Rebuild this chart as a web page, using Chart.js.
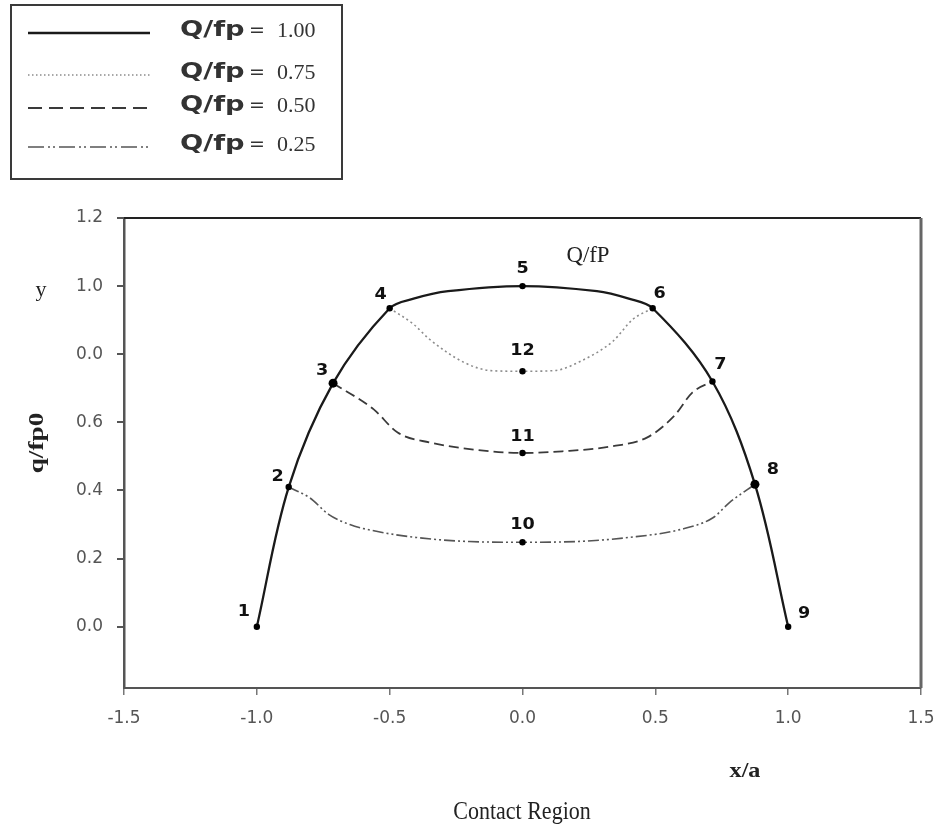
<!DOCTYPE html>
<html><head><meta charset="utf-8">
<script src="https://cdn.jsdelivr.net/npm/chart.js@4.4.1/dist/chart.umd.min.js"></script>
<style>html,body{margin:0;padding:0;background:#fff;}#wrap{width:937px;height:832px;position:relative;}</style>
</head><body><div id="wrap"><canvas id="c" width="937" height="832"></canvas></div>
<script>
// ---- data ----
const seriesValues = ["1.00", "0.75", "0.50", "0.25"];
const mainX = [-1.0, -0.88, -0.713, -0.5, -0.41, -0.28, 0, 0.28, 0.40, 0.49, 0.715, 0.875, 1.0];
const mainY = [0.0, 0.41, 0.715, 0.935, 0.963, 0.985, 1.0, 0.985, 0.963, 0.935, 0.72, 0.418, 0.0];
const q75X = [-0.5, -0.41, -0.35, -0.22, -0.12, 0, 0.12, 0.22, 0.34, 0.416, 0.49];
const q75Y = [0.935, 0.888, 0.844, 0.776, 0.752, 0.75, 0.752, 0.78, 0.838, 0.903, 0.935];
const q50X = [-0.713, -0.56, -0.47, -0.35, -0.12, 0, 0.15, 0.34, 0.47, 0.57, 0.64, 0.715];
const q50Y = [0.715, 0.638, 0.57, 0.541, 0.515, 0.51, 0.515, 0.53, 0.556, 0.618, 0.688, 0.72];
const q25X = [-0.88, -0.8, -0.73, -0.65, -0.55, -0.4, -0.2, 0, 0.2, 0.4, 0.593, 0.717, 0.78, 0.875];
const q25Y = [0.41, 0.378, 0.33, 0.30, 0.28, 0.262, 0.25, 0.248, 0.25, 0.262, 0.285, 0.32, 0.365, 0.418];
const nodeX = [-1.0, -0.88, -0.713, -0.5, 0, 0.49, 0.715, 0.875, 1.0, 0, 0, 0];
const nodeY = [0.0, 0.41, 0.715, 0.935, 1.0, 0.935, 0.72, 0.418, 0.0, 0.248, 0.51, 0.75];
const nodeLabels = ["1","2","3","4","5","6","7","8","9","10","11","12"];
const xTicks = [-1.5, -1.0, -0.5, 0.0, 0.5, 1.0, 1.5];
const xTickLabels = ["-1.5", "-1.0", "-0.5", "0.0", "0.5", "1.0", "1.5"];
const yTicks = [0.0, 0.2, 0.4, 0.6, 0.8, 1.0, 1.2];
const yTickLabels = ["0.0", "0.2", "0.4", "0.6", "0.0", "1.0", "1.2"];

// ---- helpers / styles ----
function pts(xs, ys) { return xs.map((x, i) => ({ x: x, y: ys[i] })); }
const SERIF = '"Liberation Serif", "Times New Roman", serif';
const SANS = '"DejaVu Sans", "Liberation Sans", sans-serif';
function stext(ctx, s, x, y, font, color, sx, align, rot) {
  ctx.save(); ctx.translate(x, y); if (rot) ctx.rotate(rot); ctx.scale(sx || 1, 1);
  ctx.font = font; ctx.fillStyle = color; ctx.textAlign = align || 'center'; ctx.textBaseline = 'middle';
  ctx.fillText(s, 0, 0); ctx.restore();
}
const lineBase = { showLine: true, pointRadius: 0, pointHoverRadius: 0, fill: false, cubicInterpolationMode: 'monotone' };
const seriesStyles = [
  { color: '#1a1a1a', width: 2.3, dash: [] },
  { color: '#8c8c8c', width: 1.6, dash: [2, 3] },
  { color: '#3a3a3a', width: 1.8, dash: [10, 5] },
  { color: '#555555', width: 1.6, dash: [11, 3, 2, 3, 2, 3] }
];
const nodeOffsets = [[-13,-15],[-11,-10],[-11,-12],[-9,-13],[0,-17],[7,-14],[8,-17],[18,-14],[16,-13],[0,-17],[0,-16],[0,-20]];

const framePlugin = {
  id: 'frame',
  beforeDatasetsDraw(chart) {
    const a = chart.chartArea, ctx = chart.ctx;
    ctx.save();
    ctx.strokeStyle = '#222'; ctx.lineWidth = 2;
    ctx.beginPath(); ctx.moveTo(a.left, a.top); ctx.lineTo(a.right, a.top); ctx.stroke();
    ctx.strokeStyle = '#666'; ctx.lineWidth = 3;
    ctx.beginPath(); ctx.moveTo(a.right, a.top); ctx.lineTo(a.right, a.bottom); ctx.stroke();
    ctx.restore();
  }
};

const textPlugin = {
  id: 'texts',
  afterDraw(chart) {
    const ctx = chart.ctx, xs = chart.scales.x, ys = chart.scales.y;
    nodeLabels.forEach((lab, i) => {
      const px = xs.getPixelForValue(nodeX[i]), py = ys.getPixelForValue(nodeY[i]);
      stext(ctx, lab, px + nodeOffsets[i][0], py + nodeOffsets[i][1], 'bold 16px ' + SANS, '#111', 1.1);
    });
    stext(ctx, 'y', 41, 290, '22px ' + SERIF, '#222', 1);
    stext(ctx, 'q/fp0', 38, 443, 'bold 21px ' + SERIF, '#222', 1.3, 'center', -Math.PI / 2);
    stext(ctx, 'Q/fP', 588, 256, '24px ' + SERIF, '#222', 0.95);
    stext(ctx, 'x/a', 745, 772, 'bold 21px ' + SERIF, '#222', 1.15);
    stext(ctx, 'Contact Region', 522, 812, '25px ' + SERIF, '#222', 0.88);
    ctx.save();
    ctx.strokeStyle = '#3a3a3a'; ctx.lineWidth = 2;
    ctx.strokeRect(11, 5, 331, 174);
    const rows = [33, 75, 108, 147];
    seriesValues.forEach((v, i) => {
      const st = seriesStyles[i];
      ctx.save();
      ctx.strokeStyle = st.color; ctx.lineWidth = st.width;
      const d = i === 1 ? [1.5, 2.5] : (i === 2 ? [14, 7] : (i === 3 ? [16, 4, 2, 3, 2, 4] : []));
      ctx.setLineDash(d);
      ctx.beginPath(); ctx.moveTo(28, rows[i]); ctx.lineTo(150, rows[i]); ctx.stroke();
      ctx.restore();
      stext(ctx, 'Q/fp', 180, rows[i] - 2, 'bold 21px ' + SANS, '#333', 1.3, 'left');
      stext(ctx, '=', 249, rows[i] - 2, '19px ' + SANS, '#333', 1, 'left');
      stext(ctx, v, 277, rows[i] - 1, '20px ' + SERIF, '#333', 1.1, 'left');
    });
    ctx.restore();
  }
};

new Chart(document.getElementById('c'), {
  type: 'scatter',
  data: {
    datasets: [
      { label: 'nodes', data: pts(nodeX, nodeY), showLine: false,
        pointRadius: (c) => (c.dataIndex === 2 || c.dataIndex === 7) ? 4.5 : 3.2,
        pointBackgroundColor: '#000', pointBorderColor: '#000', pointBorderWidth: 0 },
      Object.assign({}, lineBase, { label: 'Q/fp = ' + seriesValues[0], data: pts(mainX, mainY),
        cubicInterpolationMode: 'default', tension: 0.35,
        borderColor: seriesStyles[0].color, borderWidth: seriesStyles[0].width, borderDash: seriesStyles[0].dash }),
      Object.assign({}, lineBase, { label: 'Q/fp = ' + seriesValues[1], data: pts(q75X, q75Y),
        borderColor: seriesStyles[1].color, borderWidth: seriesStyles[1].width, borderDash: seriesStyles[1].dash }),
      Object.assign({}, lineBase, { label: 'Q/fp = ' + seriesValues[2], data: pts(q50X, q50Y),
        borderColor: seriesStyles[2].color, borderWidth: seriesStyles[2].width, borderDash: seriesStyles[2].dash }),
      Object.assign({}, lineBase, { label: 'Q/fp = ' + seriesValues[3], data: pts(q25X, q25Y),
        borderColor: seriesStyles[3].color, borderWidth: seriesStyles[3].width, borderDash: seriesStyles[3].dash })
    ]
  },
  options: {
    responsive: false, animation: false, devicePixelRatio: 1,
    layout: { autoPadding: false, padding: { left: 0, top: 218, right: 16, bottom: 104 } },
    plugins: { legend: { display: false }, tooltip: { enabled: false } },
    scales: {
      x: {
        type: 'linear', min: -1.5, max: 1.5,
        afterBuildTicks: (s) => { s.ticks = xTicks.map(v => ({ value: v })); },
        afterFit: (s) => { s.height = 40; },
        ticks: { callback: (v) => xTickLabels[xTicks.indexOf(v)], font: { family: SANS, size: 17, lineHeight: '47px' }, color: '#555', padding: 0, maxRotation: 0, autoSkip: false },
        grid: { display: true, drawOnChartArea: false, drawTicks: true, tickLength: 7, color: '#777', lineWidth: 1.5 },
        border: { display: true, color: '#555', width: 2 }
      },
      y: {
        type: 'linear', min: -0.18, max: 1.2,
        afterBuildTicks: (s) => { s.ticks = yTicks.map(v => ({ value: v })); },
        afterFit: (s) => { s.width = 124; },
        ticks: { callback: (v) => yTickLabels[yTicks.findIndex(t => Math.abs(t - v) < 1e-9)], font: { family: SANS, size: 17 }, color: '#555', padding: 14, autoSkip: false },
        grid: { display: true, drawOnChartArea: false, drawTicks: true, tickLength: 7, color: '#555', lineWidth: 2 },
        border: { display: true, color: '#555', width: 2.5 }
      }
    }
  },
  plugins: [framePlugin, textPlugin]
});
</script>
</body></html>
